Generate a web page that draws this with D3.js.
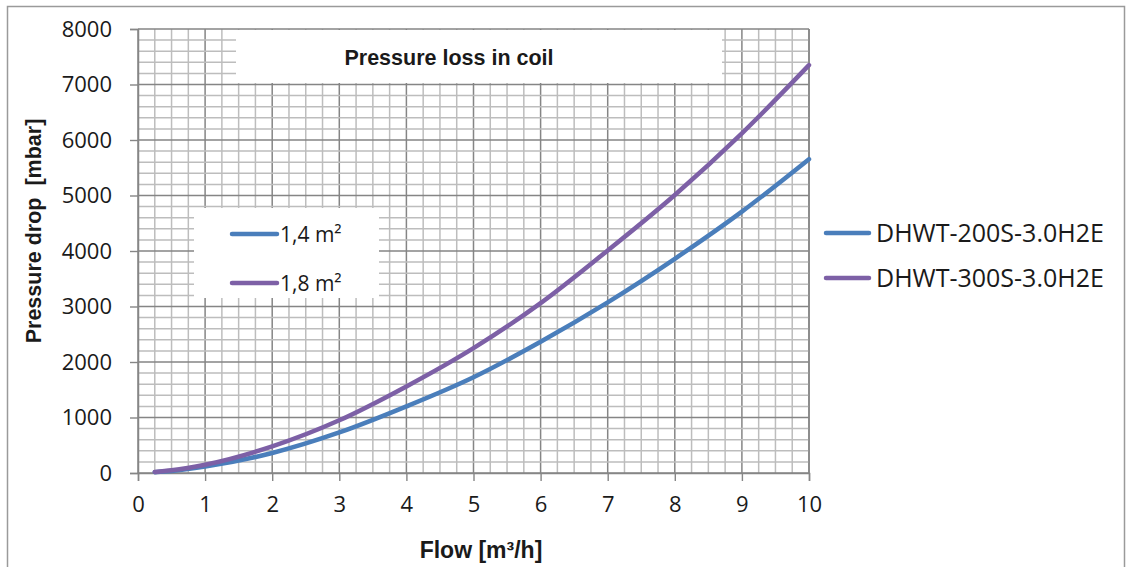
<!DOCTYPE html>
<html>
<head>
<meta charset="utf-8">
<script src="https://cdn.jsdelivr.net/npm/d3@7/dist/d3.min.js"></script>
<style>
  html, body { margin: 0; padding: 0; background: #fff; }
  svg { display: block; }
</style>
</head>
<body>
<svg id="chart" width="1132" height="567"></svg>
<script>
// ---- data ----
const flow = [0.25, 0.5, 1, 2, 3, 4, 5, 6, 7, 8, 9, 10];
const dhwt200 = [15, 35, 115, 360, 730, 1200, 1725, 2365, 3075, 3860, 4710, 5655];
const dhwt300 = [20, 50, 150, 480, 950, 1560, 2250, 3060, 4010, 5010, 6120, 7350];
const seriesNames = ["DHWT-200S-3.0H2E", "DHWT-300S-3.0H2E"];
const areaLabels = ["1,4 m²", "1,8 m²"];
const xTicks = [0, 1, 2, 3, 4, 5, 6, 7, 8, 9, 10];
const yTicks = [0, 1000, 2000, 3000, 4000, 5000, 6000, 7000, 8000];
const titleText = "Pressure loss in coil";
const xTitle = "Flow [m³/h]";
const yTitle = "Pressure drop  [mbar]";
const colors = ["#4A7EBB", "#7D60A6"];

const svg = d3.select("#chart");
const x = d3.scaleLinear().domain([0, 10]).range([138, 809]);
const y = d3.scaleLinear().domain([0, 8000]).range([473, 29]);

// outer frame
svg.append("rect").attr("x", 7.5).attr("y", 6.5).attr("width", 1117).attr("height", 620)
  .attr("fill", "#fff").attr("stroke", "#9a9a9a").attr("stroke-width", 1.5);

// grid
const g = svg.append("g");
const minorX = d3.range(0, 10.001, 0.25);
const minorY = d3.range(0, 8000.1, 200);
g.selectAll(".vx").data(minorX).join("line")
  .attr("x1", d => x(d)).attr("x2", d => x(d)).attr("y1", y(0)).attr("y2", y(8000))
  .attr("stroke", d => Math.abs(d - Math.round(d)) < 1e-6 ? "#858585" : "#bdbdbd")
  .attr("stroke-width", 1.5);
g.selectAll(".hy").data(minorY).join("line")
  .attr("y1", d => y(d)).attr("y2", d => y(d)).attr("x1", x(0)).attr("x2", x(10))
  .attr("stroke", d => d % 1000 === 0 ? "#858585" : "#bdbdbd")
  .attr("stroke-width", 1.5);

// white boxes (title, inner legend)
svg.append("rect").attr("x", 236).attr("y", 30).attr("width", 486).attr("height", 53).attr("fill", "#fff");
svg.append("rect").attr("x", 194).attr("y", 208).attr("width", 185).attr("height", 90).attr("fill", "#fff");

// axes
const yAxis = d3.axisLeft(y).tickValues(yTicks).tickSize(8).tickPadding(18).tickFormat(d3.format("d"));
const xAxis = d3.axisBottom(x).tickValues(xTicks).tickSize(8).tickPadding(15).tickFormat(d3.format("d"));
const ya = svg.append("g").attr("transform", `translate(${x(0)},0)`).call(yAxis);
const xa = svg.append("g").attr("transform", `translate(0,${y(0)})`).call(xAxis);
[ya, xa].forEach(a => {
  a.select(".domain").attr("stroke", "#868686").attr("stroke-width", 1.5);
  a.selectAll(".tick line").attr("stroke", "#868686").attr("stroke-width", 1.4);
  a.selectAll(".tick text").attr("fill", "#1a1a1a")
    .style("font-family", "'Open Sans', sans-serif").style("font-size", "22px");
});
// right border of plot
svg.append("line").attr("x1", x(10)).attr("x2", x(10)).attr("y1", y(0)).attr("y2", y(8000))
  .attr("stroke", "#868686").attr("stroke-width", 1.5);

// series lines
const line = d3.line().x(d => x(d[0])).y(d => y(d[1])).curve(d3.curveMonotoneX);
const allSeries = [dhwt200, dhwt300];
allSeries.forEach((s, i) => {
  svg.append("path").datum(flow.map((f, j) => [f, s[j]]))
    .attr("d", line).attr("fill", "none").attr("stroke", colors[i])
    .attr("stroke-width", 4.5).attr("stroke-linecap", "round");
});

// title
svg.append("text").attr("x", 449).attr("y", 65).attr("text-anchor", "middle")
  .style("font-family", "'Liberation Sans', Arial, sans-serif").style("font-weight", "bold")
  .style("font-size", "21.5px").attr("fill", "#1a1a1a").text(titleText);

// axis titles
svg.append("text").attr("x", 481).attr("y", 558).attr("text-anchor", "middle")
  .style("font-family", "'Liberation Sans', Arial, sans-serif").style("font-weight", "bold")
  .style("font-size", "23px").attr("fill", "#1a1a1a").text(xTitle);
svg.append("text").attr("transform", "translate(41,231) rotate(-90)").attr("text-anchor", "middle")
  .style("font-family", "'Liberation Sans', Arial, sans-serif").style("font-weight", "bold")
  .style("white-space", "pre")
  .style("font-size", "21.5px").attr("fill", "#1a1a1a").text(yTitle);

// inner legend
areaLabels.forEach((t, i) => {
  const yy = 234 + i * 49;
  svg.append("line").attr("x1", 232).attr("x2", 277).attr("y1", yy).attr("y2", yy)
    .attr("stroke", colors[i]).attr("stroke-width", 4.5).attr("stroke-linecap", "round");
  svg.append("text").attr("x", 280).attr("y", yy + 8)
    .style("font-family", "'Open Sans', sans-serif").style("font-size", "21px")
    .attr("fill", "#1a1a1a").text(t);
});

// right legend
seriesNames.forEach((t, i) => {
  const yy = 233 + i * 45;
  svg.append("line").attr("x1", 826).attr("x2", 869).attr("y1", yy).attr("y2", yy)
    .attr("stroke", colors[i]).attr("stroke-width", 4.5).attr("stroke-linecap", "round");
  svg.append("text").attr("x", 876).attr("y", yy + 9)
    .style("font-family", "'Open Sans', sans-serif").style("font-size", "25px")
    .attr("fill", "#1a1a1a").text(t);
});
</script>
</body>
</html>
